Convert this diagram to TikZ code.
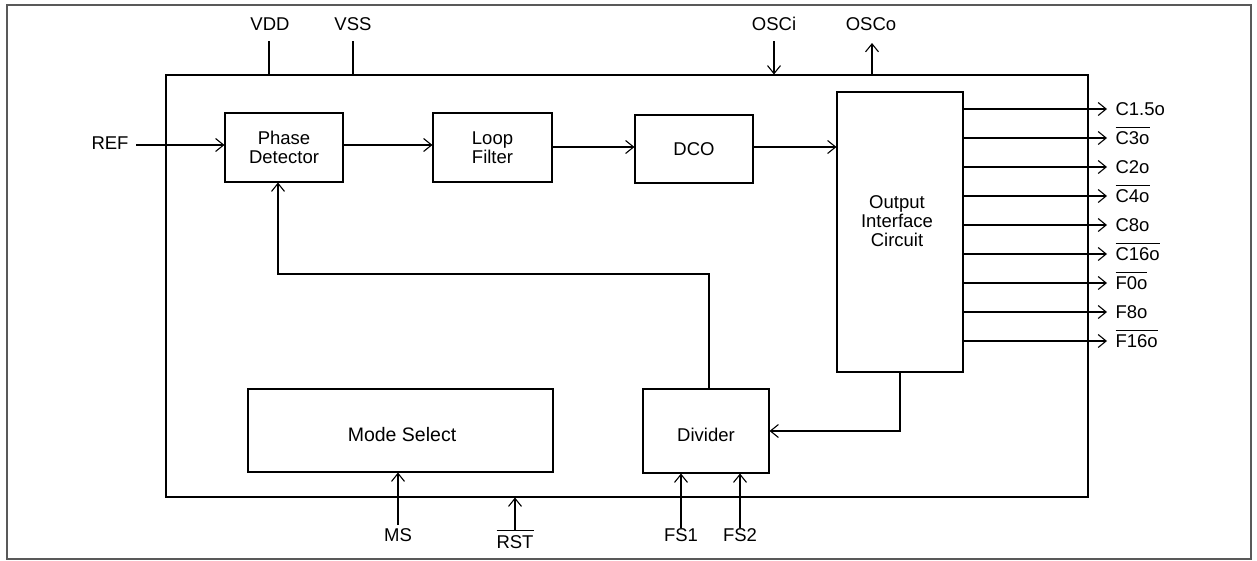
\documentclass[tikz,border=0pt]{standalone}
\usepackage{fontspec}
\setmainfont{Liberation Sans}
\usetikzlibrary{arrows.meta}
\newcommand\ovl[1]{$\overline{\hbox{\rule{0pt}{16pt}#1}}$}
\begin{document}
\begin{tikzpicture}[x=1pt,y=-1pt,
  line width=1.1pt,
  blk/.style={draw,rectangle,inner sep=0pt,align=center,font=\fontsize{18.5}{19}\selectfont},
  txt/.style={inner sep=0pt,align=center,font=\fontsize{18.5}{19}\selectfont},
  arr/.style={-{Straight Barb[length=8pt,width=13pt,line width=1.1pt]}},
  lbl/.style={inner sep=0pt,anchor=west,font=\fontsize{18.5}{19}\selectfont}]
\useasboundingbox (0,0) rectangle (1257,560);
\draw[draw=black!65,line width=1.6pt] (7,5) rectangle (1251,559);
% chip
\node[draw,rectangle,inner sep=0pt,minimum width=922pt,minimum height=422pt] (chip) at (627,286) {};
% blocks
\node[blk,minimum width=118pt,minimum height=69pt] (pd) at (284,147.5) {Phase\\Detector};
\node[blk,minimum width=119pt,minimum height=69pt] (lf) at (492.5,147.5) {Loop\\Filter};
\node[blk,minimum width=118pt,minimum height=68pt] (dco) at (694,149) {DCO};
\node[blk,minimum width=126pt,minimum height=280pt] (oic) at (900,232) {};
\node[txt] (oict) at (897,221) {Output\\Interface\\Circuit};
\node[blk,minimum width=305pt,minimum height=83pt] (ms) at (400.5,430.5) {};
\node[txt,font=\fontsize{19.5}{20}\selectfont] (mst) at (402,435) {Mode Select};
\node[blk,minimum width=126pt,minimum height=84pt] (div) at (706,431) {};
\node[txt] (divt) at (706,435) {Divider};
% top pins
\node[txt] (vdd) at (270,24) {VDD};
\node[txt] (vss) at (353,24) {VSS};
\node[txt] (osci) at (774,24) {OSCi};
\node[txt] (osco) at (871,24) {OSCo};
\coordinate (vddt) at (269,41);
\coordinate (vsst) at (353,41);
\coordinate (oscit) at (774,41);
\coordinate (oscot) at (872,43);
\draw (vddt) -- (vddt |- chip.north);
\draw (vsst) -- (vsst |- chip.north);
\draw[arr] (oscit) -- (oscit |- chip.north);
\draw[arr] (oscot |- chip.north) -- (oscot);
% REF
\node[txt] (ref) at (110,143) {REF};
\coordinate (reft) at (136,145);
\draw[arr] (reft) -- (reft -| pd.west);
% chain
\draw[arr] (pd.east |- 0,145) -- (lf.west |- 0,145);
\draw[arr] (lf.east |- 0,147) -- (dco.west |- 0,147);
\draw[arr] (dco.east |- 0,147) -- (oic.west |- 0,147);
% outputs
\foreach \n/\y/\t in {o1/109/C1.5o, o2/138/\ovl{C3o}, o3/167/C2o, o4/196/\ovl{C4o}, o5/225/C8o, o6/254/\ovl{C16o}, o7/283/\ovl{F0o}, o8/312/F8o, o9/341/\ovl{F16o}}{
  \node[lbl,anchor=base west] (\n) at (1115,\y+6.5) {\t};
  \coordinate (\n e) at (1107,\y);
  \draw[arr] (oic.east |- \n e) -- (\n e);
}
% feedback
\coordinate (fb1) at (709,274);
\coordinate (fb2) at (278,274);
\draw[arr] (fb1 |- div.north) -- (fb1) -- (fb2) -- (fb2 |- pd.south);
\coordinate (oicb) at (900,431);
\draw[arr] (oicb |- oic.south) -- (oicb) -- (div.east |- oicb);
% bottom pins
\node[txt] (msl) at (398,535) {MS};
\node[txt,anchor=base] (rst) at (515,548) {\ovl{RST}};
\node[txt] (fs1) at (681,535) {FS1};
\node[txt] (fs2) at (740,535) {FS2};
\coordinate (msb) at (398,525);
\coordinate (rstb) at (515,530);
\coordinate (fs1b) at (681,528);
\coordinate (fs2b) at (740,528);
\draw[arr] (msb) -- (msb |- ms.south);
\draw[arr] (rstb) -- (rstb |- chip.south);
\draw[arr] (fs1b) -- (fs1b |- div.south);
\draw[arr] (fs2b) -- (fs2b |- div.south);
\end{tikzpicture}
\end{document}
